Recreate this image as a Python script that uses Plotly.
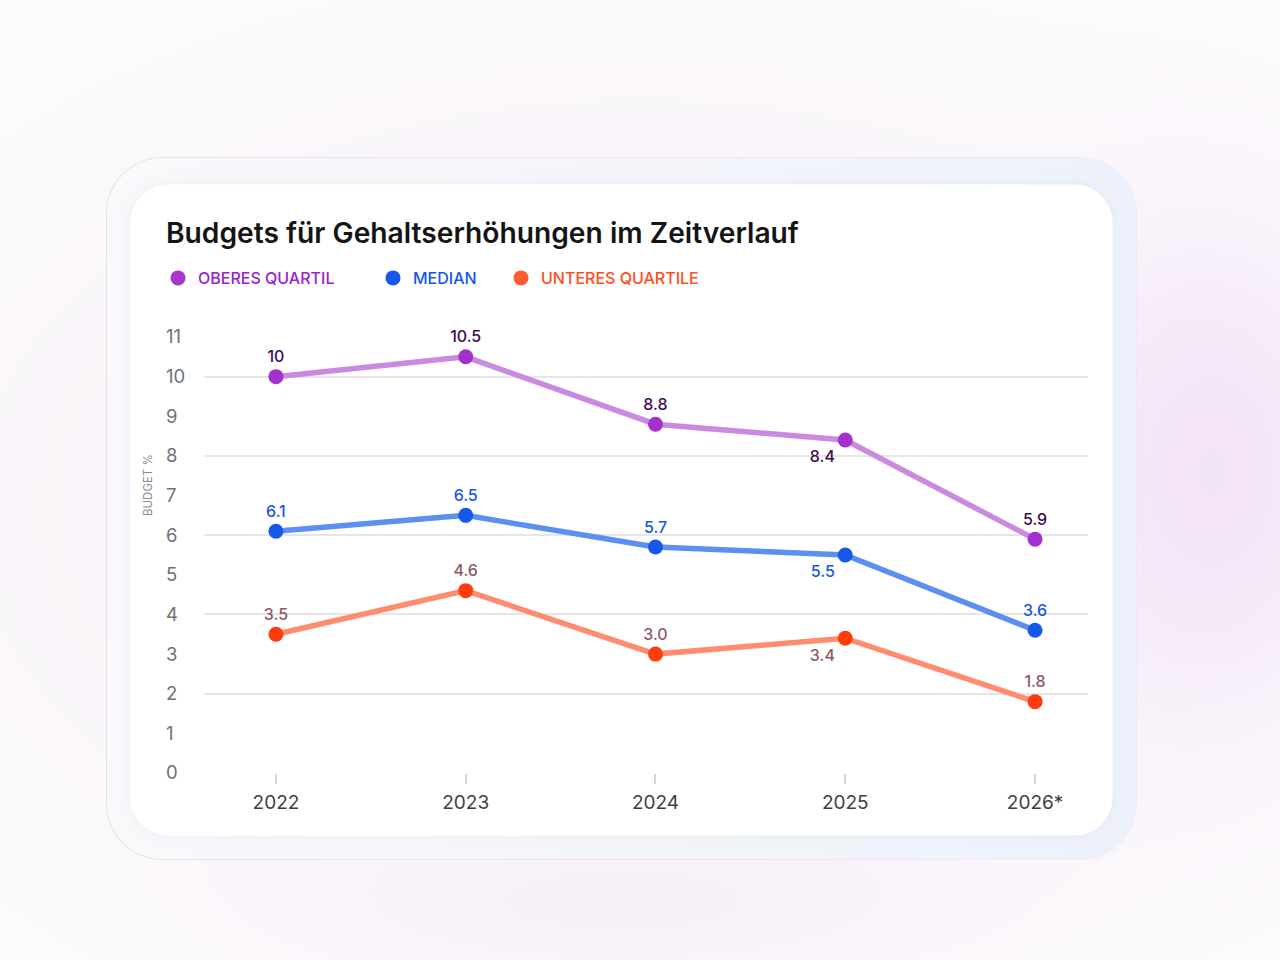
import base64
import struct
import zlib

import numpy as np
import plotly.graph_objects as go

# ---------------- data ----------------
years = ["2022", "2023", "2024", "2025", "2026*"]
upper_quartile = [10.0, 10.5, 8.8, 8.4, 5.9]
median = [6.1, 6.5, 5.7, 5.5, 3.6]
lower_quartile = [3.5, 4.6, 3.0, 3.4, 1.8]
upper_labels = ["10", "10.5", "8.8", "8.4", "5.9"]
median_labels = ["6.1", "6.5", "5.7", "5.5", "3.6"]
lower_labels = ["3.5", "4.6", "3.0", "3.4", "1.8"]
y_ticks = list(range(0, 12))
series_names = ["OBERES QUARTIL", "MEDIAN", "UNTERES QUARTILE"]
title_text = "Budgets für Gehaltserhöhungen im Zeitverlauf"
y_title = "BUDGET %"

W, H = 1280, 960
FONT = "Inter"


# ---------------- background image (decoration) ----------------
def make_background():
    yy, xx = np.mgrid[0:H, 0:W].astype(float)
    img = np.ones((H, W, 3)) * np.array([254.0, 253.0, 254.0])

    def blend(alpha, color):
        nonlocal img
        a = np.clip(alpha, 0, 1)[..., None]
        img = img * (1 - a) + np.array(color, float) * a

    def gauss(cx, cy, rx, ry):
        return np.exp(-(((xx - cx) / rx) ** 2 + ((yy - cy) / ry) ** 2))

    blend(0.95 * gauss(640, 510, 760, 470), (246, 239, 247))
    blend(0.75 * gauss(1215, 470, 150, 230), (240, 222, 246))
    blend(0.55 * gauss(620, 905, 320, 70), (245, 234, 246))

    def rrect_dist(x0, y0, x1, y1, r):
        cx, cy = (x0 + x1) / 2, (y0 + y1) / 2
        hw, hh = (x1 - x0) / 2, (y1 - y0) / 2
        qx = np.abs(xx - cx) - (hw - r)
        qy = np.abs(yy - cy) - (hh - r)
        out = np.sqrt(np.maximum(qx, 0) ** 2 + np.maximum(qy, 0) ** 2)
        inside = np.minimum(np.maximum(qx, qy), 0)
        return out + inside - r

    # outer card
    d_out = rrect_dist(106, 157, 1136, 859, 56)
    t = np.clip((xx - 106) / 1030, 0, 1) ** 1.4
    col = np.stack([
        249 - 13 * t,
        248 - 7 * t,
        251 + 0 * t,
    ], axis=-1)
    a = np.clip(0.5 - d_out, 0, 1)[..., None]
    img = img * (1 - a) + col * a
    # border (stronger on the left / bottom)
    side = np.clip(1.0 - (xx - 106) / 1030 * 0.7, 0.3, 1.0)
    blend(0.45 * side * np.clip(1 - np.abs(d_out), 0, 1), (200, 200, 206))

    # inner card shadow
    d_in = rrect_dist(130, 184, 1112, 835, 38)
    shadow = np.where(d_in > 0, 0.06 * np.exp(-d_in / 5.0), 0) * (d_out < 0)
    blend(shadow, (150, 150, 170))
    # inner card
    blend(np.clip(0.5 - d_in, 0, 1), (255, 255, 255))

    arr = np.clip(np.round(img), 0, 255).astype(np.uint8)
    prev = np.vstack([np.zeros((1, W, 3), np.uint8), arr[:-1]])
    filt = (arr.astype(np.int16) - prev.astype(np.int16)) % 256
    filt = filt.astype(np.uint8).reshape(H, W * 3)
    raw = np.concatenate([np.full((H, 1), 2, np.uint8), filt], axis=1).tobytes()

    def chunk(tag, data):
        return (struct.pack(">I", len(data)) + tag + data
                + struct.pack(">I", zlib.crc32(tag + data) & 0xFFFFFFFF))

    png = (b"\x89PNG\r\n\x1a\n"
           + chunk(b"IHDR", struct.pack(">IIBBBBB", W, H, 8, 2, 0, 0, 0))
           + chunk(b"IDAT", zlib.compress(raw, 9))
           + chunk(b"IEND", b""))
    return "data:image/png;base64," + base64.b64encode(png).decode()


bg = make_background()

# ---------------- figure ----------------
fig = go.Figure()

styles = [
    dict(y=upper_quartile, text=upper_labels, line="#c98ae0", marker="#a431cd",
         label="#3f0b52", legend_marker="#a737cf", legend_text="#9a22cf", legend="legend"),
    dict(y=median, text=median_labels, line="#5b8ff0", marker="#1659ea",
         label="#1556e8", legend_marker="#1659ea", legend_text="#1556e8", legend="legend2"),
    dict(y=lower_quartile, text=lower_labels, line="#ff8c6f", marker="#ff3c0c",
         label="#8c5868", legend_marker="#ff5a30", legend_text="#ff4d1e", legend="legend3"),
]
positions = ["top center", "top center", "top center", "bottom left", "top center"]

for name, s in zip(series_names, styles):
    fig.add_trace(go.Scatter(
        x=years, y=s["y"], mode="lines+markers+text",
        text=s["text"], textposition=positions,
        textfont=dict(family=FONT, size=16, color=s["label"], weight=500),
        line=dict(color=s["line"], width=5.5),
        marker=dict(color=s["marker"], size=15, line=dict(width=0)),
        cliponaxis=False, showlegend=False, hoverinfo="skip", name=name,
    ))

for name, s in zip(series_names, styles):
    fig.add_trace(go.Scatter(
        x=[None], y=[None], mode="markers", name=name,
        marker=dict(color=s["legend_marker"], size=15),
        legend=s["legend"], showlegend=True, yaxis="y2", hoverinfo="skip",
    ))

legend_common = dict(orientation="h", yanchor="middle", y=1 - 278 / H,
                     xanchor="left", bgcolor="rgba(0,0,0,0)", borderwidth=0,
                     itemclick=False, itemdoubleclick=False)
leg_x = [178, 393, 521]

fig.update_layout(
    width=W, height=H,
    margin=dict(l=0, r=0, t=0, b=0, autoexpand=False),
    paper_bgcolor="#ffffff", plot_bgcolor="rgba(0,0,0,0)",
    images=[dict(source=bg, xref="paper", yref="paper", x=0, y=1, sizex=1, sizey=1,
                 xanchor="left", yanchor="top", sizing="stretch", layer="below")],
    title=dict(text=title_text, x=166 / W, xanchor="left", xref="paper",
               y=1 - 233 / H, yanchor="middle", yref="paper",
               font=dict(family=FONT, size=28.2, color="#141414", weight=600)),
    legend=dict(legend_common, x=(leg_x[0] - 20) / W,
                font=dict(family=FONT, size=16, color=styles[0]["legend_text"], weight=500)),
    legend2=dict(legend_common, x=(leg_x[1] - 20) / W,
                 font=dict(family=FONT, size=16, color=styles[1]["legend_text"], weight=500)),
    legend3=dict(legend_common, x=(leg_x[2] - 20) / W,
                 font=dict(family=FONT, size=16, color=styles[2]["legend_text"], weight=500)),
    xaxis=dict(domain=[204 / W, 1088 / W], type="category", range=[-0.379, 4.279],
               showgrid=False, zeroline=False, showline=False,
               ticks="outside", ticklen=10, tickwidth=1.5, tickcolor="#d6d6d8",
               tickfont=dict(family=FONT, size=19, color="#3e3e42"),
               ticklabelstandoff=2, fixedrange=True),
    yaxis=dict(domain=[1 - 773 / H, 1 - 337 / H], range=[0, 11],
               tickvals=y_ticks[::2], showticklabels=False, ticks="",
               showgrid=True, gridcolor="#e6e6e8", gridwidth=1.5,
               zeroline=False, showline=False, fixedrange=True),
    yaxis2=dict(overlaying="y", anchor="free", position=165 / W, side="right",
                range=[0, 11], tickvals=y_ticks, ticks="", showgrid=False,
                zeroline=False, showline=False,
                tickfont=dict(family=FONT, size=18.5, color="#707076"), fixedrange=True),
    annotations=[dict(text=y_title, textangle=-90, xref="paper", yref="paper",
                      x=148 / W, y=1 - 485 / H, xanchor="center", yanchor="middle",
                      showarrow=False,
                      font=dict(family=FONT, size=11.5, color="#8a8a90"))],
    hovermode=False,
)

fig.write_html("out.html", config=dict(displayModeBar=False))
